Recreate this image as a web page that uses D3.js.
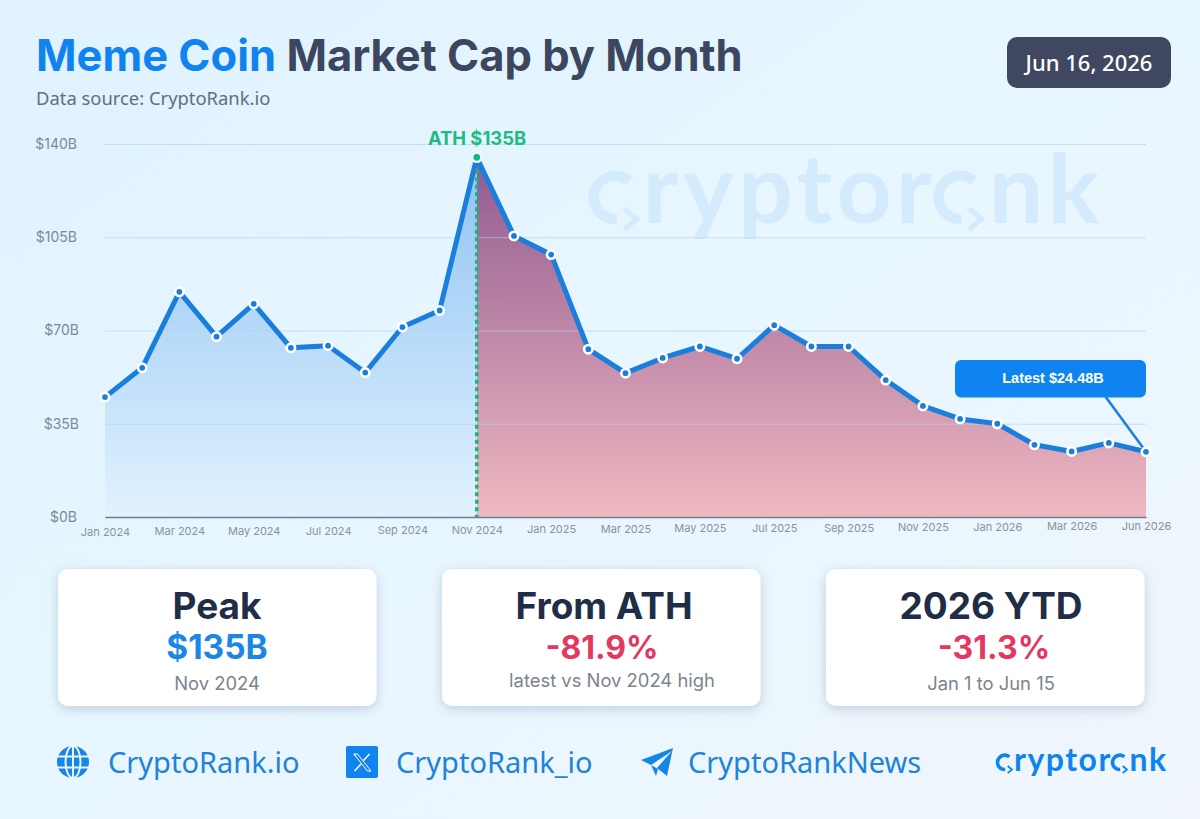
<!DOCTYPE html>
<html>
<head>
<meta charset="utf-8">
<script src="https://cdn.jsdelivr.net/npm/d3@7"></script>
<style>
  html, body { margin: 0; padding: 0; background: #e8f5fe; overflow: hidden; }
  svg { display: block; }
  text { font-family: Inter, sans-serif; }
</style>
</head>
<body>
<svg id="chart"></svg>
<script>
const width = 1200,
  height = 819;

// Monthly market cap, $B. May 2026 is not on the reference, so the last step is Apr to Jun.
const months = [
  "Jan 2024", "Feb 2024", "Mar 2024", "Apr 2024", "May 2024", "Jun 2024", "Jul 2024", "Aug 2024",
  "Sep 2024", "Oct 2024", "Nov 2024", "Dec 2024", "Jan 2025", "Feb 2025", "Mar 2025", "Apr 2025",
  "May 2025", "Jun 2025", "Jul 2025", "Aug 2025", "Sep 2025", "Oct 2025", "Nov 2025", "Dec 2025",
  "Jan 2026", "Feb 2026", "Mar 2026", "Apr 2026", "Jun 2026"
];
const marketCap = [
  45, 56, 84.5, 67.7, 80, 63.5, 64.3, 54.2,
  71.3, 77.5, 135, 105.5, 98.5, 63, 54, 59.7,
  64, 59.4, 72, 64, 64, 51.4, 41.7, 36.8,
  35, 27.1, 24.6, 27.8, 24.48
];
const yTicks = [0, 35, 70, 105, 140];
const peakMonth = "Nov 2024";

const cardTitles = ["Peak", "From ATH", "2026 YTD"];
const cardValues = ["$135B", "-81.9%", "-31.3%"];
const cardNotes = ["Nov 2024", "latest vs Nov 2024 high", "Jan 1 to Jun 15"];

const x = d3.scalePoint().domain(months).range([105, 1146]);
const y = d3.scaleLinear().domain([0, 140]).range([517, 144]);

const svg = d3.select("#chart").attr("width", width).attr("height", height);
const defs = svg.append("defs");

function addGradient(id, coords, stops, userSpace) {
  const g = defs.append("linearGradient").attr("id", id).attr("x1", coords[0]).attr("y1", coords[1]).attr("x2", coords[2]).attr("y2", coords[3]);
  if (userSpace) g.attr("gradientUnits", "userSpaceOnUse");
  stops.forEach(s => g.append("stop").attr("offset", s[0]).attr("stop-color", s[1]));
}
addGradient("bg", [0, 0, 1, 1], [[0, "#dff2fe"], [0.45, "#e7f6ff"], [1, "#f0f6fc"]]);
addGradient("blueFill", [0, y(135), 0, y(0)], [[0, "#8dc3f3"], [1, "#e2f2fe"]], true);
addGradient("redFill", [0, y(135), 0, y(0)], [[0, "#8f5a90"], [1, "#f0b9c1"]], true);

const shadow = defs.append("filter").attr("id", "cardShadow").attr("x", "-10%").attr("y", "-15%").attr("width", "120%").attr("height", "135%");
shadow.append("feDropShadow").attr("dx", 0).attr("dy", 3).attr("stdDeviation", 6).attr("flood-color", "#7c93ab").attr("flood-opacity", 0.4);

svg.append("rect").attr("width", width).attr("height", height).attr("fill", "url(#bg)");

// Draws the cryptorank wordmark as real text, with the "c" and "a" replaced by the arrow rings.
function drawLogo(parent, left, baseline, size, spacing, color, strokeW) {
  const g = parent.append("g");
  const t = g.append("text").attr("x", left).attr("y", baseline)
    .style("font-family", "Lato, sans-serif")
    .attr("font-size", size).attr("font-weight", 700).attr("letter-spacing", spacing).attr("fill", color);
  "cryptorank".split("").forEach((ch, i) => {
    t.append("tspan").attr("fill-opacity", (i === 0 || i === 7) ? 0 : 1).text(ch);
  });
  const node = t.node();
  [0, 7].forEach(i => {
    const p = node.getStartPositionOfChar(i).x,
      q = node.getEndPositionOfChar(i).x,
      r = size * 0.225,
      cx = (p + q - spacing) / 2,
      cy = baseline - r - strokeW * 0.4;
    const arc = d3.arc().innerRadius(r - strokeW / 2).outerRadius(r + strokeW / 2)
      .startAngle(0.22 * Math.PI).endAngle(-1.02 * Math.PI);
    g.append("path").attr("transform", "translate(" + cx + "," + cy + ")").attr("d", arc()).attr("fill", color);
    const a = size * 0.11;
    g.append("path")
      .attr("transform", "translate(" + (cx + r) + "," + (cy + r) + ")")
      .attr("d", "M" + (-a * 1.2) + "," + (-a) + "L0,0L" + (-a * 1.2) + "," + a)
      .attr("fill", "none").attr("stroke", color).attr("stroke-width", strokeW * 0.5);
  });
}

// Title block
const title = svg.append("text").attr("x", 36).attr("y", 71).attr("font-size", 43.5).attr("font-weight", 700);
title.append("tspan").attr("fill", "#0f84f0").text("Meme Coin");
title.append("tspan").attr("fill", "#3c475f").text(" Market Cap by Month");

svg.append("text").attr("x", 36).attr("y", 105).attr("font-size", 18.4).attr("fill", "#5f6f82")
  .style("font-family", "'Noto Sans', sans-serif").text("Data source: CryptoRank.io");

svg.append("rect").attr("x", 1007).attr("y", 37).attr("width", 164).attr("height", 51).attr("rx", 10).attr("fill", "#3f4860");
svg.append("text").attr("x", 1089).attr("y", 71).attr("text-anchor", "middle").attr("font-size", 22).attr("font-weight", 500)
  .style("font-family", "'Noto Sans', sans-serif").attr("fill", "#fff").text("Jun 16, 2026");

drawLogo(svg, 592, 223, 96, 4.5, "#d3ebfc", 10);

// Area, split at the peak month
const peakIndex = months.indexOf(peakMonth);
const points = months.map((m, i) => ({ month: m, value: marketCap[i] }));
const area = d3.area().x(d => x(d.month)).y0(y(0)).y1(d => y(d.value));
const line = d3.line().x(d => x(d.month)).y(d => y(d.value));

svg.append("path").attr("d", area(points.slice(0, peakIndex + 1))).attr("fill", "url(#blueFill)");
svg.append("path").attr("d", area(points.slice(peakIndex))).attr("fill", "url(#redFill)");

// Axes
const yAxis = svg.append("g").attr("transform", "translate(105,0)")
  .call(d3.axisLeft(y).tickValues(yTicks).tickSize(-1041).tickPadding(28).tickFormat(d => "$" + d + "B"));
yAxis.select(".domain").remove();
yAxis.selectAll(".tick line").attr("stroke", "#b4cfe2").attr("stroke-opacity", 0.6).attr("stroke-width", 1);
yAxis.selectAll(".tick text").attr("font-size", 14).attr("fill", "#7d8a98").style("font-family", "Inter, sans-serif");
yAxis.selectAll(".tick text").attr("x", d => (d === 35 || d === 70) ? -26 : -28);

const xAxis = svg.append("g").attr("transform", "translate(0," + y(0) + ")")
  .call(d3.axisBottom(x).tickValues(months.filter((m, i) => i % 2 === 0)).tickSize(0));
xAxis.select(".domain").attr("stroke", "#6c8093").attr("stroke-width", 1.5);
// the reference is photographed slightly skewed, labels creep upwards to the right
xAxis.selectAll(".tick text").attr("font-size", 11).attr("fill", "#8793a1")
  .style("font-family", "Inter, sans-serif")
  .attr("y", (d, i) => 11 - i * 0.43);

// Peak marker
svg.append("line").attr("x1", x(peakMonth)).attr("x2", x(peakMonth)).attr("y1", y(135) + 5).attr("y2", y(0))
  .attr("stroke", "#17b67e").attr("stroke-width", 3.6).attr("stroke-dasharray", "4 3.5");

svg.append("path").attr("d", line(points)).attr("fill", "none").attr("stroke", "#1a7fdc").attr("stroke-width", 5).attr("stroke-linejoin", "round");

// Latest callout
const last = points[points.length - 1];
svg.append("line").attr("x1", 1105).attr("y1", 396).attr("x2", x(last.month)).attr("y2", y(last.value))
  .attr("stroke", "#1a7fdc").attr("stroke-width", 2.5);
svg.append("rect").attr("x", 955).attr("y", 360).attr("width", 191).attr("height", 37.5).attr("rx", 6).attr("fill", "#0f84f0");
svg.append("text").attr("x", 1053).attr("y", 383).attr("text-anchor", "middle").attr("font-size", 14.5).attr("font-weight", 700)
  .style("font-family", "'Liberation Sans', sans-serif").attr("fill", "#fff").text("Latest $" + last.value + "B");

svg.selectAll("circle.pt")
  .data(points.filter(d => d.month !== peakMonth))
  .enter().append("circle").attr("class", "pt")
  .attr("cx", d => x(d.month)).attr("cy", d => y(d.value))
  .attr("r", 4.2).attr("fill", "#1a7fdc").attr("stroke", "#fff").attr("stroke-width", 2.6);

svg.append("circle").attr("cx", x(peakMonth)).attr("cy", y(135)).attr("r", 4.6).attr("fill", "#17b67e").attr("stroke", "#eef8fe").attr("stroke-width", 2.4);
svg.append("text").attr("x", 477).attr("y", 145).attr("text-anchor", "middle").attr("font-size", 18.4).attr("font-weight", 700)
  .attr("fill", "#1fbb84").text("ATH $" + marketCap[peakIndex] + "B");

// Stat cards
const cardX = d3.scalePoint().domain(cardTitles).range([58, 826]);
const cards = svg.selectAll("g.card").data(cardTitles).enter().append("g").attr("class", "card")
  .attr("transform", d => "translate(" + cardX(d) + ",569)");
cards.append("rect").attr("width", 318.5).attr("height", 137).attr("rx", 10).attr("fill", "#fff").attr("filter", "url(#cardShadow)");
cards.append("text").attr("x", (d, i) => 159 + i * 3).attr("y", 50).attr("text-anchor", "middle").attr("font-size", 37).attr("font-weight", 700)
  .attr("fill", "#1f2d47").text(d => d);
cards.append("text").attr("x", (d, i) => 159 + [0, 1, 9][i]).attr("y", 90).attr("text-anchor", "middle").attr("font-size", (d, i) => i === 0 ? 33.5 : 32).attr("font-weight", 700)
  .attr("fill", (d, i) => i === 0 ? "#1c86e6" : "#e5385f").text((d, i) => cardValues[i]);
cards.append("text").attr("x", (d, i) => 159 + [0, 11, 6][i]).attr("y", (d, i) => i === 1 ? 118 : 121).attr("text-anchor", "middle").attr("font-size", 18.4)
  .attr("fill", "#7c848e").text((d, i) => cardNotes[i]);

// Footer links
const footer = svg.append("g");
const linkLabels = ["CryptoRank.io", "CryptoRank_io", "CryptoRankNews"];
const linkX = [108, 396, 688];
linkLabels.forEach((label, i) => {
  footer.append("text").attr("x", linkX[i]).attr("y", 773).attr("font-size", 29)
    .style("font-family", "'Noto Sans', sans-serif").attr("fill", "#1f83d6").text(label);
});

const globe = footer.append("g").attr("transform", "translate(73,762)");
globe.append("circle").attr("r", 16).attr("fill", "#1585e6");
globe.append("ellipse").attr("rx", 7.5).attr("ry", 16).attr("fill", "none").attr("stroke", "#e9f5fe").attr("stroke-width", 2);
globe.append("path").attr("d", "M0,-16V16M-16,-5.5H16M-16,5.5H16").attr("stroke", "#e9f5fe").attr("stroke-width", 2);

footer.append("rect").attr("x", 346).attr("y", 746).attr("width", 32).attr("height", 32).attr("rx", 2).attr("fill", "#0f84f0");
footer.append("path").attr("d", "M354,754L370,771M354.5,771L361,764M363.5,760.5L369.5,754")
  .attr("stroke", "#fff").attr("stroke-width", 1.6).attr("fill", "none");
footer.append("path").attr("d", "M354,754h3.6L371,771h-3.6Z").attr("stroke", "#fff").attr("stroke-width", 1).attr("fill", "#0f84f0");

footer.append("path").attr("d", "M641,760L673,748L667,776L657,768L672,751L651,765Z").attr("fill", "#1585e6");
footer.append("path").attr("d", "M651,765L656,776L658,769Z").attr("fill", "#1585e6");

drawLogo(footer, 997, 771, 32, 1.5, "#0f84f0", 3.6);
</script>
</body>
</html>
